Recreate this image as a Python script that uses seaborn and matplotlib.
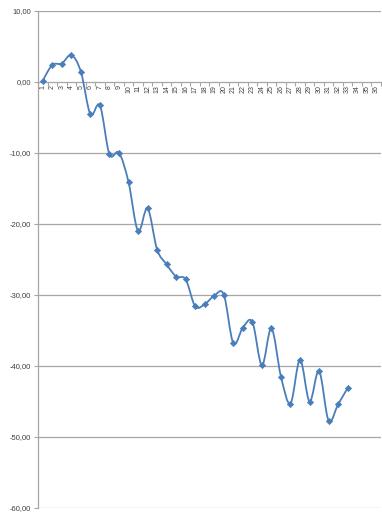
import matplotlib
matplotlib.use("Agg")
import matplotlib.pyplot as plt
from matplotlib.path import Path
from matplotlib.patches import PathPatch
import seaborn as sns
import pandas as pd

# ---- data ----
categories = list(range(1, 37))
x_labels = [str(c) for c in categories]
series_x = list(range(1, 34))
series_y = [0.2, 2.4, 2.6, 3.8, 1.45, -4.55, -3.3, -10.2, -9.95, -14.1,
            -21.0, -17.8, -23.6, -25.7, -27.4, -27.8, -31.6, -31.3, -30.1, -29.95,
            -36.8, -34.6, -33.8, -39.9, -34.7, -41.5, -45.3, -39.1, -45.0, -40.7,
            -47.7, -45.4, -43.1]
y_ticks = [10, 0, -10, -20, -30, -40, -50, -60]
y_tick_labels = ["10,00", "0,00", "-10,00", "-20,00", "-30,00", "-40,00", "-50,00", "-60,00"]

sns.set_style("white")
plt.rcParams['font.family'] = ['Liberation Sans', 'DejaVu Sans']

W, H = 382, 525
fig = plt.figure(figsize=(W / 100, H / 100), dpi=100)
ax = fig.add_axes([38 / W, 1 - 508 / H, (381 - 38) / W, (508 - 11) / H])

color = "#4a7ebb"
grid_c = "#a6a6a6"

# smooth line (Excel-style smoothed curve through the data points)
n = len(series_x)
pts = list(zip(series_x, series_y))
verts = [pts[0]]
codes = [Path.MOVETO]
for i in range(n - 1):
    p0 = pts[i - 1] if i > 0 else pts[i]
    p1 = pts[i]
    p2 = pts[i + 1]
    p3 = pts[i + 2] if i + 2 < n else pts[i + 1]
    c1 = (p1[0] + (p2[0] - p0[0]) / 6, p1[1] + (p2[1] - p0[1]) / 6)
    c2 = (p2[0] - (p3[0] - p1[0]) / 6, p2[1] - (p3[1] - p1[1]) / 6)
    verts += [c1, c2, p2]
    codes += [Path.CURVE4] * 3
ax.add_patch(PathPatch(Path(verts, codes), facecolor="none", edgecolor=color,
                       lw=1.3, zorder=3, capstyle="round", joinstyle="round"))

df = pd.DataFrame({"x": series_x, "y": series_y})
sns.scatterplot(data=df, x="x", y="y", ax=ax, marker="D", s=10, color=color,
                edgecolor=color, linewidth=0.5, zorder=4)

ax.set_xlim(0.5, 36.5)
ax.set_ylim(-60, 10)

# gridlines
for yt in y_ticks:
    if yt != 0:
        ax.axhline(yt, color=grid_c, lw=0.9, zorder=1)

for s in ["top", "right"]:
    ax.spines[s].set_visible(False)
ax.spines["left"].set_color(grid_c)
ax.spines["left"].set_linewidth(0.9)
ax.spines["bottom"].set_position(("data", 0))
ax.spines["bottom"].set_color(grid_c)
ax.spines["bottom"].set_linewidth(0.9)

ax.set_yticks(y_ticks)
ax.set_yticklabels(y_tick_labels, fontsize=5.5, color="#404040")
ax.tick_params(axis="y", length=3, width=0.8, color=grid_c, pad=2, direction="out", left=True)

ax.set_xticks(categories)
ax.set_xticklabels(x_labels, rotation=90, fontsize=5, color="#404040")
ax.set_xticks([c + 0.5 for c in categories[:-1]] + [0.5, 36.5], minor=True)
ax.tick_params(axis="x", which="major", length=0, pad=2, bottom=True)
ax.tick_params(axis="x", which="minor", length=3, width=0.8, color=grid_c, direction="out", bottom=True)

ax.set_xlabel("")
ax.set_ylabel("")

fig.savefig("out.png", dpi=100)
